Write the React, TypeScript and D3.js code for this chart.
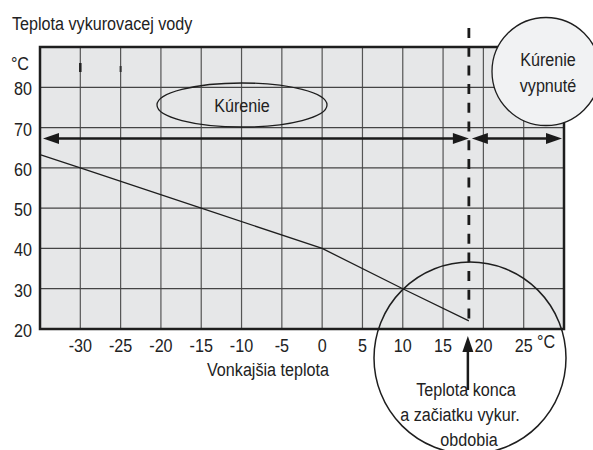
import * as d3 from 'd3';
import React from 'react';

// outside temperature ticks and water temperature ticks
const xTicks = [-30, -25, -20, -15, -10, -5, 0, 5, 10, 15, 20, 25];
const yTicks = [20, 30, 40, 50, 60, 70, 80];
const xGrid = [-30, -25, -20, -15, -10, -5, 0, 5, 10, 15, 20, 25];
const yGrid = [30, 40, 50, 60, 70, 80];

// heating curve: outside temp -> water temp
const outsideTemp = [-35, -30, -15, 0, 10, 18.2];
const waterTemp = [63.3, 60, 50, 40, 30, 22];

const switchTemp = 18.2; // heating season boundary
const arrowLevel = 67.3;

const title = 'Teplota vykurovacej vody';
const xTitle = 'Vonkajšia teplota';
const heatingLabel = 'Kúrenie';
const offLabel = ['Kúrenie', 'vypnuté'];
const boundaryLabel = ['Teplota konca', 'a začiatku vykur.', 'obdobia'];

const W = 593;
const H = 450;

// condensed text: regular font squeezed horizontally
const T = ({ x, y, anchor = 'start', children }: { x: number; y: number; anchor?: string; children: React.ReactNode }) => (
  <text transform={`translate(${x},${y}) scale(0.85,1)`} textAnchor={anchor}>{children}</text>
);

export default function App() {
  const x = d3.scaleLinear().domain([-35, 30]).range([40, 564]);
  const y = d3.scaleLinear().domain([20, 90]).range([329, 47]);

  const curve = d3.line<number>()
    .x((d, i) => x(outsideTemp[i]))
    .y(d => y(d));

  const font = "'Liberation Sans', Arial, sans-serif";
  const sx = x(switchTemp);
  const ay = y(arrowLevel);

  const head = (tipX: number, tipY: number, dir: 'l' | 'r' | 'u') => {
    const L = 16, w = 5.5;
    let pts: number[][];
    if (dir === 'l') pts = [[tipX, tipY], [tipX + L, tipY - w], [tipX + L, tipY + w]];
    else if (dir === 'r') pts = [[tipX, tipY], [tipX - L, tipY - w], [tipX - L, tipY + w]];
    else pts = [[tipX, tipY], [tipX - w, tipY + L], [tipX + w, tipY + L]];
    return <polygon points={pts.map(p => p.join(',')).join(' ')} fill="#1a1a1a" />;
  };

  return (
    <svg width={W} height={H} style={{ position: 'absolute', left: 0, top: 0, background: '#fff' }}
      fontFamily={font} fontSize={19} fill="#222">
      <T x={12} y={30}>{title}</T>

      {/* plot background */}
      <rect x={x(-35)} y={y(90)} width={x(30) - x(-35)} height={y(20) - y(90)} fill="#e6e7e8" />

      {/* grid */}
      {xGrid.map(t => (
        <line key={'vx' + t} x1={x(t)} x2={x(t)} y1={y(90)} y2={y(20)} stroke="#555" strokeWidth={1.2} />
      ))}
      {yGrid.map(t => (
        <line key={'hy' + t} x1={x(-35)} x2={x(30)} y1={y(t)} y2={y(t)} stroke="#444" strokeWidth={1.2} />
      ))}

      {/* small marks near top */}
      <line x1={x(-30)} x2={x(-30)} y1={63} y2={72} stroke="#222" strokeWidth={2.5} />
      <line x1={x(-25)} x2={x(-25)} y1={66} y2={72} stroke="#333" strokeWidth={2} />

      {/* frame */}
      <rect x={x(-35)} y={y(90)} width={x(30) - x(-35)} height={y(20) - y(90)} fill="none" stroke="#1e1e1e" strokeWidth={2.5} />

      {/* heating curve */}
      <path d={curve(waterTemp) || ''} fill="none" stroke="#1e1e1e" strokeWidth={1.3} />

      {/* heating ellipse */}
      <ellipse cx={242} cy={105} rx={85} ry={22} fill="none" stroke="#1e1e1e" strokeWidth={1.3} />
      <T x={242} y={112} anchor="middle">{heatingLabel}</T>

      {/* arrows */}
      <line x1={x(-35) + 10} x2={sx - 8} y1={ay} y2={ay} stroke="#1a1a1a" strokeWidth={2.5} />
      {head(x(-35) + 3, ay, 'l')}
      {head(sx, ay, 'r')}
      <line x1={sx + 10} x2={x(30) - 8} y1={ay} y2={ay} stroke="#1a1a1a" strokeWidth={2.5} />
      {head(sx + 3, ay, 'l')}
      {head(x(30) - 2, ay, 'r')}

      {/* dashed boundary */}
      <line x1={sx} x2={sx} y1={28} y2={y(20) - 6} stroke="#1a1a1a" strokeWidth={2.8} strokeDasharray="10 8.7" />

      {/* heating off circle */}
      <circle cx={546} cy={71.5} r={54} fill="#f1f2f3" stroke="#1e1e1e" strokeWidth={1.3} />
      <T x={548} y={66} anchor="middle">{offLabel[0]}</T>
      <T x={548} y={92} anchor="middle">{offLabel[1]}</T>

      {/* y axis labels */}
      {yTicks.map(t => (
        <T key={'yl' + t} x={32} y={y(t) + 8} anchor="end">{t}</T>
      ))}
      <T x={29} y={70} anchor="end">°C</T>

      {/* x axis labels */}
      {xTicks.map(t => (
        <T key={'xl' + t} x={x(t)} y={352} anchor="middle">{t}</T>
      ))}
      <T x={537} y={348}>°C</T>
      <T x={268} y={376} anchor="middle">{xTitle}</T>

      {/* boundary circle */}
      <circle cx={470} cy={358} r={96} fill="none" stroke="#1e1e1e" strokeWidth={1.5} />
      <line x1={sx - 1} x2={sx - 1} y1={350} y2={390} stroke="#1a1a1a" strokeWidth={2.5} />
      {head(sx - 1, 336, 'u')}
      <T x={466} y={396} anchor="middle">{boundaryLabel[0]}</T>
      <T x={460} y={421} anchor="middle">{boundaryLabel[1]}</T>
      <T x={469} y={446} anchor="middle">{boundaryLabel[2]}</T>
    </svg>
  );
}
